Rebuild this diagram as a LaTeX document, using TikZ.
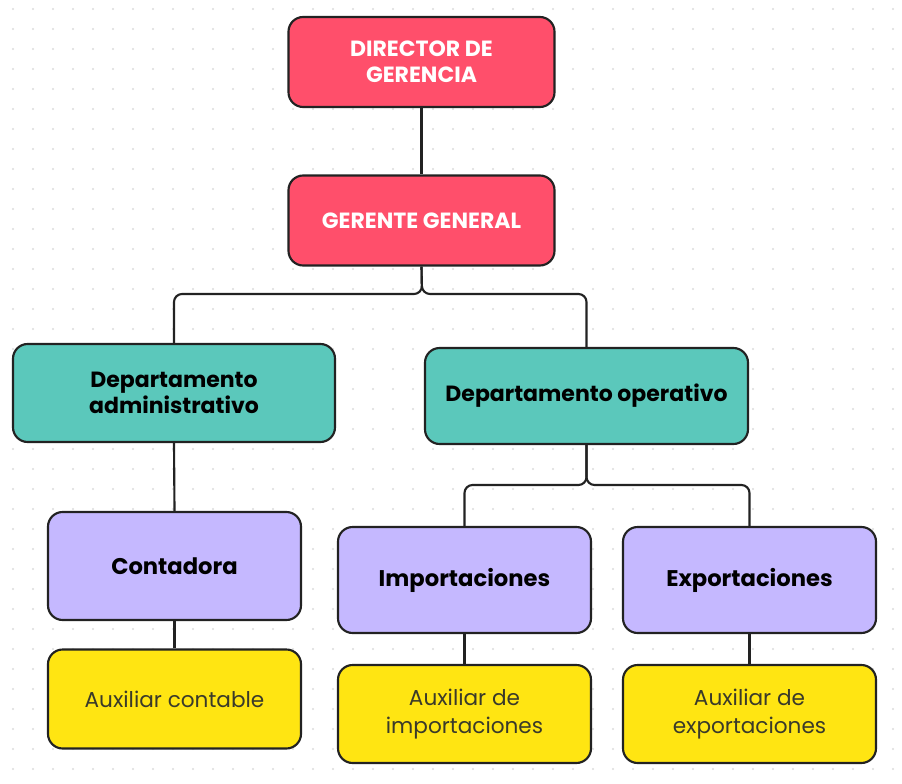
\documentclass[tikz,border=0pt]{standalone}
\usepackage{fontspec}
\setmainfont{Poppins}
\definecolor{redbox}{HTML}{FF4F6B}
\definecolor{tealbox}{HTML}{5BC8BB}
\definecolor{lavbox}{HTML}{C5B8FF}
\definecolor{yelbox}{HTML}{FFE512}
\definecolor{edge}{HTML}{222222}
\definecolor{dotc}{HTML}{DCDCDC}
\definecolor{auxtext}{HTML}{3A3A2A}
\tikzset{
  box/.style={draw=edge, line width=1.6pt, rounded corners=11pt, align=center, inner sep=2pt},
  redstyle/.style={box, fill=redbox, text=white, font=\bfseries\fontsize{16.5}{19.5}\selectfont},
  tealstyle/.style={box, fill=tealbox, text=black, font=\bfseries\fontsize{16.5}{20}\selectfont},
  lavstyle/.style={box, fill=lavbox, text=black, font=\bfseries\fontsize{17}{20}\selectfont},
  yelstyle/.style={box, fill=yelbox, text=auxtext, font=\fontsize{16.2}{21}\selectfont},
  conn/.style={draw=edge, line width=1.6pt, rounded corners=6pt},
}
\begin{document}
\begin{tikzpicture}[x=0.75pt, y=-0.75pt]
\fill[white] (0,0) rectangle (902,784);
\useasboundingbox (0,0) rectangle (902,784);
\foreach \i in {0,...,44} {
  \foreach \j in {0,...,38} {
    \fill[dotc] ({13+20*\i},{9+20*\j}) circle (0.8pt);
  }
}
\node[redstyle, minimum width=266*0.75pt, minimum height=90*0.75pt] (dir) at (421.5,62) {DIRECTOR DE\\GERENCIA};
\node[redstyle, minimum width=266*0.75pt, minimum height=90*0.75pt] (ger) at (421.5,220.5) {GERENTE GENERAL};
\node[tealstyle, minimum width=322*0.75pt, minimum height=98*0.75pt] (adm) at (174,393) {Departamento\\administrativo};
\node[tealstyle, minimum width=323*0.75pt, minimum height=96*0.75pt] (ope) at (586.5,396) {Departamento operativo};
\node[lavstyle, minimum width=253*0.75pt, minimum height=108*0.75pt] (con) at (174.5,566) {Contadora};
\node[lavstyle, minimum width=253*0.75pt, minimum height=106*0.75pt] (imp) at (464.5,580) {Importaciones};
\node[lavstyle, minimum width=253*0.75pt, minimum height=106*0.75pt] (exp) at (749.5,580) {Exportaciones};
\node[yelstyle, minimum width=253*0.75pt, minimum height=99*0.75pt] (auxc) at (174.5,699) {Auxiliar contable};
\node[yelstyle, minimum width=253*0.75pt, minimum height=98*0.75pt] (auxi) at (464.5,714) {Auxiliar de\\importaciones};
\node[yelstyle, minimum width=253*0.75pt, minimum height=98*0.75pt] (auxe) at (749.5,714) {Auxiliar de\\exportaciones};
\coordinate (j1) at (422,294);
\coordinate (j2) at (586.5,485);
\draw[conn] (dir.south) -- (ger.north);
\draw[conn] (ger.south) -- (j1) -| (adm.north);
\draw[conn] (ger.south) -- (j1) -| (ope.north);
\draw[conn] (adm.south) -- (con.north);
\draw[conn] (ope.south) -- (j2) -| (imp.north);
\draw[conn] (ope.south) -- (j2) -| (exp.north);
\draw[conn] (con.south) -- (auxc.north);
\draw[conn] (imp.south) -- (auxi.north);
\draw[conn] (exp.south) -- (auxe.north);
\end{tikzpicture}
\end{document}
